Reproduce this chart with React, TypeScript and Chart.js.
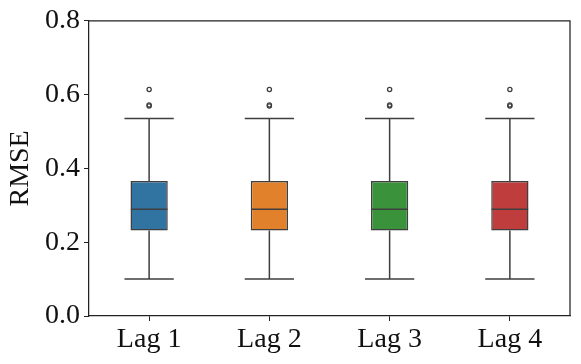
import React, { useEffect, useRef } from "react";
import { Chart, registerables } from "chart.js";

Chart.register(...registerables);

const categories = ["Lag 1", "Lag 2", "Lag 3", "Lag 4"];
const whiskerLow = [0.1, 0.1, 0.1, 0.1];
const q1 = [0.232, 0.232, 0.232, 0.232];
const median = [0.289, 0.289, 0.289, 0.289];
const q3 = [0.366, 0.366, 0.366, 0.366];
const whiskerHigh = [0.535, 0.535, 0.535, 0.535];
const outliers = [
  [0.569, 0.572, 0.614],
  [0.569, 0.572, 0.614],
  [0.569, 0.572, 0.614],
  [0.569, 0.572, 0.614],
];
const boxColors = ["#3274a1", "#e1812c", "#3a923a", "#c03d3e"];
const yTicks = [0, 0.2, 0.4, 0.6, 0.8];

const LINE = "#3f3f3f";
const SPINE = "#222222";
const FONT = "'Liberation Serif', 'DejaVu Serif', serif";

const boxPlugin = {
  id: "boxExtras",
  afterDatasetsDraw(chart: any) {
    const { ctx, scales, chartArea } = chart;
    const xs = scales.x;
    const ys = scales.y;
    const catW = (chartArea.right - chartArea.left) / categories.length;
    const capHalf = catW * 0.205;
    const boxHalf = catW * 0.152;
    ctx.save();
    ctx.strokeStyle = LINE;
    ctx.lineWidth = 1.5;
    ctx.lineCap = "butt";
    categories.forEach((_, i) => {
      const x = xs.getPixelForValue(i);
      const yLo = ys.getPixelForValue(whiskerLow[i]);
      const yQ1 = ys.getPixelForValue(q1[i]);
      const yMed = ys.getPixelForValue(median[i]);
      const yQ3 = ys.getPixelForValue(q3[i]);
      const yHi = ys.getPixelForValue(whiskerHigh[i]);
      ctx.beginPath();
      ctx.moveTo(x, yQ1);
      ctx.lineTo(x, yLo);
      ctx.moveTo(x, yQ3);
      ctx.lineTo(x, yHi);
      ctx.moveTo(x - capHalf, yLo);
      ctx.lineTo(x + capHalf, yLo);
      ctx.moveTo(x - capHalf, yHi);
      ctx.lineTo(x + capHalf, yHi);
      ctx.moveTo(x - boxHalf, yMed);
      ctx.lineTo(x + boxHalf, yMed);
      ctx.stroke();
      ctx.lineWidth = 1.3;
      outliers[i].forEach((v) => {
        const yy = ys.getPixelForValue(v);
        ctx.beginPath();
        ctx.arc(x, yy, 2.1, 0, Math.PI * 2);
        ctx.stroke();
      });
      ctx.lineWidth = 1.5;
    });
    // frame top/right
    ctx.strokeStyle = SPINE;
    ctx.lineWidth = 1.25;
    ctx.beginPath();
    ctx.moveTo(chartArea.left, chartArea.top);
    ctx.lineTo(chartArea.right, chartArea.top);
    ctx.lineTo(chartArea.right, chartArea.bottom);
    ctx.stroke();
    ctx.restore();
  },
};

export default function App() {
  const ref = useRef<HTMLCanvasElement>(null);
  useEffect(() => {
    document.body.style.margin = "0";
    const chart = new Chart(ref.current as HTMLCanvasElement, {
      type: "bar",
      data: {
        labels: categories,
        datasets: [
          {
            data: categories.map((_, i) => [q1[i], q3[i]]) as any,
            backgroundColor: boxColors,
            borderColor: LINE,
            borderWidth: 1.5,
            borderSkipped: false,
            barPercentage: 0.31,
            categoryPercentage: 1,
          },
        ],
      },
      options: {
        animation: false,
        responsive: false,
        maintainAspectRatio: false,
        layout: { padding: { top: 20, right: 11, left: 0, bottom: 0 } },
        plugins: { legend: { display: false }, tooltip: { enabled: false } },
        scales: {
          x: {
            offset: true,
            grid: {
              display: true,
              offset: false,
              drawOnChartArea: false,
              drawTicks: true,
              tickLength: 5,
              tickColor: SPINE,
              tickWidth: 1,
            },
            border: { display: true, color: SPINE, width: 1.25 },
            ticks: {
              color: "#111",
              font: { family: FONT, size: 28 },
              padding: 2,
            },
            afterFit: (s: any) => {
              s.height = 48;
            },
          },
          y: {
            min: 0,
            max: 0.8,
            afterBuildTicks: (s: any) => {
              s.ticks = yTicks.map((v) => ({ value: v }));
            },
            grid: {
              display: true,
              drawOnChartArea: false,
              drawTicks: true,
              tickLength: 5,
              tickColor: SPINE,
              tickWidth: 1,
            },
            border: { display: true, color: SPINE, width: 1.25 },
            ticks: {
              color: "#111",
              font: { family: FONT, size: 28 },
              padding: 4,
              callback: (v: any) => Number(v).toFixed(1),
            },
            title: {
              display: true,
              text: "RMSE",
              color: "#111",
              font: { family: FONT, size: 28 },
              padding: { top: 4, bottom: 2 },
            },
            afterFit: (s: any) => {
              s.width = 89;
            },
          },
        },
      },
      plugins: [boxPlugin],
    });
    return () => chart.destroy();
  }, []);
  return (
    <div style={{ width: 581, height: 364 }}>
      <canvas ref={ref} width={581} height={364} style={{ display: "block" }} />
    </div>
  );
}
